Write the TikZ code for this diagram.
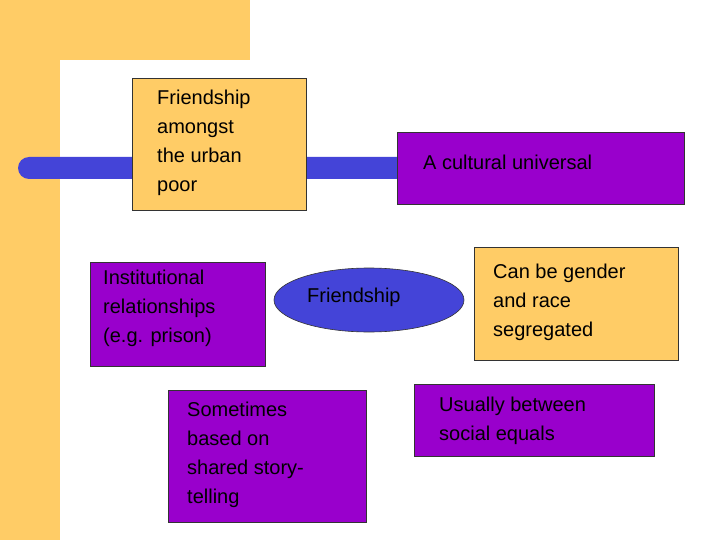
\documentclass[tikz,border=0pt]{standalone}
\usepackage{fontspec}
\setmainfont{Liberation Sans}
\usetikzlibrary{shapes.geometric}
\definecolor{ylw}{HTML}{FFCC66}
\definecolor{prp}{HTML}{9900CC}
\definecolor{blu}{HTML}{4444D8}
\begin{document}
\begin{tikzpicture}[x=1pt,y=-1pt,
 box/.style={draw=black!80,line width=0.6pt,inner sep=0pt},
 txt/.style={align=left,anchor=north west,font=\fontsize{20}{29}\selectfont,inner sep=0pt}]
\useasboundingbox (0,0) rectangle (720,540);
\fill[ylw] (0,0) rectangle (250,60);
\fill[ylw] (0,0) rectangle (60,540);
\fill[white] (60,540) -- (60,90) arc[start angle=180,end angle=90,radius=30] -- (250,60) -- (250,540) -- cycle;
\fill[white] (250,0) rectangle (720,540);
\fill[blu,rounded corners=11] (18,157) rectangle (420,179);
\fill[blu] (300,157) rectangle (420,179);
\node[box,fill=ylw,minimum width=174,minimum height=132,anchor=north west] (a) at (132,78) {};
\node[txt] at (157,90) {Friendship\\amongst\\the urban\\poor};
\node[box,fill=prp,minimum width=287,minimum height=72,anchor=north west] (b) at (397,132) {};
\node[txt] at (423,155) {A cultural universal};
\node[box,fill=prp,minimum width=175,minimum height=104,anchor=north west] (c) at (90,262) {};
\node[txt] at (103,270) {Institutional\\relationships\\(e.g. prison)};
\node[ellipse,draw=black!80,line width=0.6pt,fill=blu,minimum width=190,minimum height=64] (d) at (369,300) {};
\node[txt] at (307,288) {Friendship};
\node[box,fill=ylw,minimum width=204,minimum height=113,anchor=north west] (e) at (474,247) {};
\node[txt] at (493,264) {Can be gender\\and race\\segregated};
\node[box,fill=prp,minimum width=198,minimum height=132,anchor=north west] (f) at (168,390) {};
\node[txt] at (187,402) {Sometimes\\based on\\shared story-\\telling};
\node[box,fill=prp,minimum width=240,minimum height=72,anchor=north west] (g) at (414,384) {};
\node[txt] at (439,397) {Usually between\\social equals};
\end{tikzpicture}
\end{document}
